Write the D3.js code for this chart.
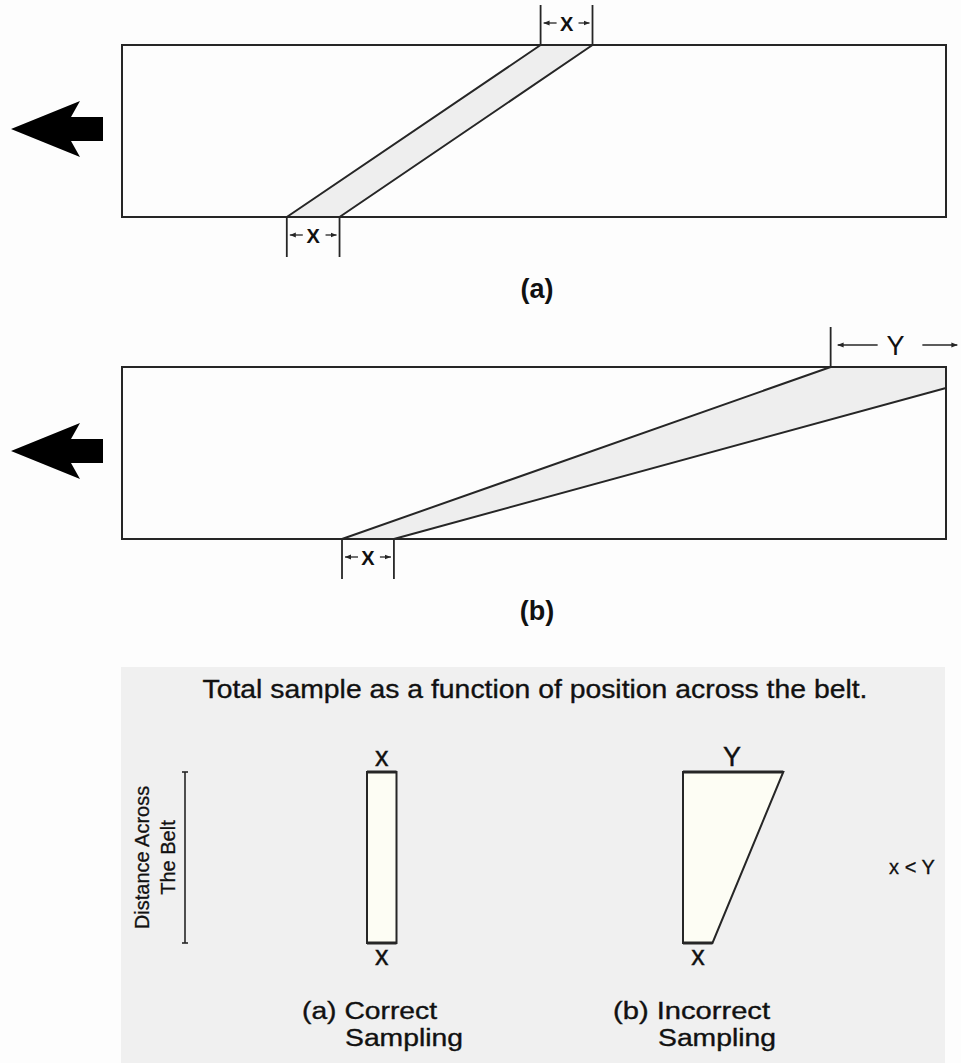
<!DOCTYPE html>
<html>
<head>
<meta charset="utf-8">
<script src="https://cdn.jsdelivr.net/npm/d3@7"></script>
<style>
  body { margin: 0; background: #fdfdfd; }
  svg { display: block; font-family: "Liberation Sans", Arial, sans-serif; }
</style>
</head>
<body>
<svg id="chart" width="961" height="1063"></svg>
<script>
// belt panels: band outlines in belt units (x = % of belt length, y = fraction across belt)
var panelLabels = ["(a)", "(b)"];
var bandOutlines = [
  [[20.0, 0], [50.8, 1], [57.1, 1], [26.4, 0]],
  [[26.7, 0], [86.0, 1], [100, 1], [100, 0.878], [33.0, 0]]
];
// dimension marks: start, end, label, right guide line (null = none)
var bottomDims = [[20.0, 26.4, "X"], [26.7, 33.0, "X"]];
var topDims = [[50.8, 57.1, "X", 57.1], [86.0, 101.5, "Y", null]];

// bottom panel: sample width vs distance across belt
var sampleNames = ["(a) Correct", "(b) Incorrect"];
var sampleTopWidth = [1, 3.4];
var sampleBottomWidth = [1, 1];
var sampleTopLabel = ["x", "Y"];
var sampleBottomLabel = ["x", "x"];
var summaryTitle = "Total sample as a function of position across the belt.";
var axisLabel = ["Distance Across", "The Belt"];
var relation = "x < Y";

var svg = d3.select("#chart");
var ink = "#262626";

// belt layout
var beltTop = [45, 367];
var beltHeight = 172;
var x = d3.scaleLinear().domain([0, 100]).range([122, 946]);

// marker for the small dimension arrows
var defs = svg.append("defs");
defs.append("marker")
  .attr("id", "head")
  .attr("viewBox", "0 0 10 10")
  .attr("refX", 10).attr("refY", 5)
  .attr("markerWidth", 6).attr("markerHeight", 6)
  .attr("markerUnits", "userSpaceOnUse")
  .attr("orient", "auto")
  .append("path").attr("d", "M0,1 L10,5 L0,9 Z").attr("fill", ink);

function dimArrow(g, tail, tip, yy) {
  g.append("line").attr("x1", tail).attr("x2", tip).attr("y1", yy).attr("y2", yy)
    .attr("stroke", ink).attr("stroke-width", 1.3).attr("marker-end", "url(#head)");
}

panelLabels.forEach(function(lab, i) {
  var y = d3.scaleLinear().domain([0, 1]).range([beltTop[i] + beltHeight, beltTop[i]]);
  var g = svg.append("g");

  // band
  g.append("path")
    .attr("d", d3.line().x(d => x(d[0])).y(d => y(d[1]))(bandOutlines[i]) + "Z")
    .attr("fill", "#eeeeee")
    .attr("stroke", ink).attr("stroke-width", 2).attr("stroke-linejoin", "round");

  // belt outline
  g.append("rect")
    .attr("x", x(0)).attr("y", y(1))
    .attr("width", x(100) - x(0)).attr("height", y(0) - y(1))
    .attr("fill", "none").attr("stroke", ink).attr("stroke-width", 2);

  // direction arrow
  var cy = (y(0) + y(1)) / 2 - 2;
  g.append("path")
    .attr("d", "M11," + cy + " L80," + (cy - 28) + " L71," + (cy - 12) + " L103," + (cy - 12) +
      " L103," + (cy + 12) + " L71," + (cy + 12) + " L80," + (cy + 28) + " Z")
    .attr("fill", "#000");

  // bottom dimension
  var bd = bottomDims[i];
  var by0 = y(0), by1 = y(0) + 40, bmy = y(0) + 18;
  [bd[0], bd[1]].forEach(function(v) {
    g.append("line").attr("x1", x(v)).attr("x2", x(v)).attr("y1", by0).attr("y2", by1)
      .attr("stroke", ink).attr("stroke-width", 1.8);
  });
  var bmx = (x(bd[0]) + x(bd[1])) / 2;
  dimArrow(g, x(bd[0]) + 16, x(bd[0]) + 3, bmy);
  dimArrow(g, x(bd[1]) - 14, x(bd[1]) - 3, bmy);
  g.append("text").attr("x", bmx).attr("y", bmy + 7.5)
    .attr("text-anchor", "middle").attr("font-size", 20).attr("font-weight", "bold")
    .attr("fill", "#111")
    .text(bd[2]);

  // top dimension
  var td = topDims[i];
  var ty0 = y(1), ty1 = y(1) - 40, tmy = y(1) - 22;
  [td[0], td[3]].forEach(function(v) {
    if (v === null) return;
    g.append("line").attr("x1", x(v)).attr("x2", x(v)).attr("y1", ty0).attr("y2", ty1)
      .attr("stroke", ink).attr("stroke-width", 1.8);
  });
  var tmx = (x(td[0]) + x(td[1])) / 2;
  if (td[2] === "Y") {
    dimArrow(g, x(td[0]) + 47, x(td[0]) + 7, tmy);
    dimArrow(g, x(td[1]) - 36, x(td[1]) - 1, tmy);
    g.append("text").attr("x", tmx + 1).attr("y", tmy + 10)
      .attr("text-anchor", "middle").attr("font-size", 27).attr("fill", "#111")
      .text(td[2]);
  } else {
    dimArrow(g, x(td[0]) + 16, x(td[0]) + 3, tmy);
    dimArrow(g, x(td[1]) - 14, x(td[1]) - 3, tmy);
    g.append("text").attr("x", tmx).attr("y", tmy + 7.5)
      .attr("text-anchor", "middle").attr("font-size", 20).attr("font-weight", "bold")
      .attr("fill", "#111")
      .text(td[2]);
  }

  // panel label
  svg.append("text")
    .attr("x", 537).attr("y", beltTop[i] + beltHeight + 81)
    .attr("text-anchor", "middle").attr("font-size", 27).attr("font-weight", "bold")
    .attr("fill", "#111")
    .text(lab);
});

// summary panel
var sp = svg.append("g");
sp.append("rect").attr("x", 121).attr("y", 667).attr("width", 824).attr("height", 396)
  .attr("fill", "#f0f0f0");

sp.append("text").attr("x", 535).attr("y", 698)
  .attr("text-anchor", "middle").attr("font-size", 26).attr("fill", "#111")
  .attr("stroke", "#111").attr("stroke-width", 0.35)
  .attr("textLength", 665).attr("lengthAdjust", "spacingAndGlyphs")
  .text(summaryTitle);

var across = d3.scaleLinear().domain([0, 1]).range([943, 772]);
var sw = d3.scaleLinear().domain([0, 1]).range([0, 29.5]);
var sampleLeft = [367, 683];

// distance-across bracket
sp.append("line").attr("x1", 185).attr("x2", 185).attr("y1", across(1)).attr("y2", across(0))
  .attr("stroke", ink).attr("stroke-width", 1.6);
[0, 1].forEach(function(v) {
  sp.append("line").attr("x1", 182).attr("x2", 188).attr("y1", across(v)).attr("y2", across(v))
    .attr("stroke", ink).attr("stroke-width", 1.6);
});
axisLabel.forEach(function(t, k) {
  var bx = [149, 175][k], my = (across(0) + across(1)) / 2;
  sp.append("text")
    .attr("transform", "translate(" + bx + "," + my + ") rotate(-90)")
    .attr("text-anchor", "middle").attr("font-size", 20).attr("fill", "#111")
    .attr("stroke", "#111").attr("stroke-width", 0.3)
    .text(t);
});

sampleNames.forEach(function(name, i) {
  var left = sampleLeft[i];
  var pts = [
    [left, across(0)],
    [left, across(1)],
    [left + sw(sampleTopWidth[i]), across(1)],
    [left + sw(sampleBottomWidth[i]), across(0)]
  ];
  sp.append("path")
    .attr("d", d3.line()(pts) + "Z")
    .attr("fill", "#fdfdf4").attr("stroke", ink).attr("stroke-width", 2)
    .attr("stroke-linejoin", "miter");
  // heavier top and bottom edges
  sp.append("line").attr("x1", pts[1][0]).attr("x2", pts[2][0]).attr("y1", pts[1][1]).attr("y2", pts[2][1])
    .attr("stroke", ink).attr("stroke-width", 3);
  sp.append("line").attr("x1", pts[0][0]).attr("x2", pts[3][0]).attr("y1", pts[0][1]).attr("y2", pts[3][1])
    .attr("stroke", ink).attr("stroke-width", 3);

  var topX = i === 0 ? left + sw(1) / 2 : 732;
  sp.append("text").attr("x", topX).attr("y", 766)
    .attr("text-anchor", "middle").attr("font-size", 27).attr("fill", "#111")
    .attr("stroke", "#111").attr("stroke-width", 0.4)
    .text(sampleTopLabel[i]);
  var botX = i === 0 ? left + sw(1) / 2 : 698;
  sp.append("text").attr("x", botX).attr("y", 965)
    .attr("text-anchor", "middle").attr("font-size", 27).attr("fill", "#111")
    .attr("stroke", "#111").attr("stroke-width", 0.4)
    .text(sampleBottomLabel[i]);

  var lx = [302, 613][i], lw = [135, 157][i];
  var sx = [345, 658][i];
  sp.append("text").attr("x", lx).attr("y", 1019)
    .attr("font-size", 23).attr("fill", "#111")
    .attr("stroke", "#111").attr("stroke-width", 0.35)
    .attr("textLength", lw).attr("lengthAdjust", "spacingAndGlyphs")
    .text(name);
  sp.append("text").attr("x", sx).attr("y", 1046)
    .attr("font-size", 23).attr("fill", "#111")
    .attr("stroke", "#111").attr("stroke-width", 0.35)
    .attr("textLength", 118).attr("lengthAdjust", "spacingAndGlyphs")
    .text("Sampling");
});

sp.append("text").attr("x", 912).attr("y", 874)
  .attr("text-anchor", "middle").attr("font-size", 20).attr("fill", "#111")
  .attr("stroke", "#111").attr("stroke-width", 0.3)
  .text(relation);
</script>
</body>
</html>
